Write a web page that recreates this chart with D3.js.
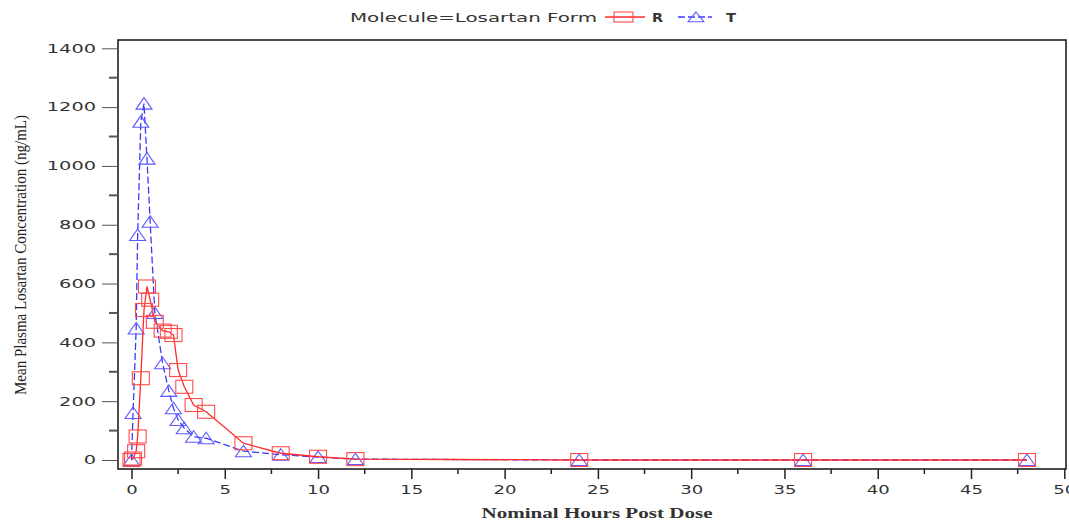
<!DOCTYPE html>
<html>
<head>
<meta charset="utf-8">
<script src="https://cdn.jsdelivr.net/npm/d3@7"></script>
<style>
  body { margin: 0; background: #fff; }
  svg { display: block; }
</style>
</head>
<body>
<script>
// Nominal sampling times (hours)
var hours = [0, 0.083, 0.25, 0.33, 0.5, 0.67, 0.83, 1, 1.25, 1.67, 2, 2.25, 2.5, 2.83, 3.33, 4, 6, 8, 10, 12, 24, 36, 48];

// Mean plasma losartan concentration (ng/mL) per formulation
var formR = [0, 5, 30, 80, 278, 510, 590, 545, 470, 440, 436, 425, 306, 249, 187, 164, 57, 23, 11, 3, 0, 0, 0];
var formT = [0, 160, 447, 765, 1150, 1212, 1025, 810, 500, 329, 235, 176, 136, 108, 79, 74, 30, 18, 10, 3, 0, 0, 0];

var yTicks = [0, 200, 400, 600, 800, 1000, 1200, 1400];
var xTicks = [0, 5, 10, 15, 20, 25, 30, 35, 40, 45, 50];

var W = 1069, H = 520;
var frame = { left: 118, right: 1066, top: 40, bottom: 469 };

var svg = d3.select("body").append("svg")
    .attr("width", W)
    .attr("height", H);

var x = d3.scaleLinear().domain([0, 50]).range([131.5, 1064.3]);
var y = d3.scaleLinear().domain([0, 1400]).range([460, 48.3]);

var redC = "#ff2a2a", blueC = "#3a3aff";
var tickFont = "DejaVu Sans, Verdana, sans-serif";

// frame
svg.append("rect")
    .attr("x", frame.left).attr("y", frame.top)
    .attr("width", frame.right - frame.left)
    .attr("height", frame.bottom - frame.top)
    .attr("fill", "none").attr("stroke", "#111").attr("stroke-width", 1.5);

// Y axis: major ticks with labels, minor ticks between
var yAxis = svg.append("g")
    .attr("transform", "translate(" + frame.left + ",0)")
    .call(d3.axisLeft(y).tickValues(yTicks).tickFormat(d3.format("d"))
        .tickSize(16).tickPadding(6).tickSizeOuter(0));
yAxis.select(".domain").remove();
yAxis.selectAll("line").attr("stroke", "#555");
yAxis.selectAll("text")
    .style("font-family", tickFont).style("font-size", "12px").attr("fill", "#333")
    .attr("textLength", function(d) { return String(d).length * 12.3; })
    .attr("lengthAdjust", "spacingAndGlyphs");

svg.append("g").selectAll("line")
    .data(d3.range(100, 1400, 200))
    .enter().append("line")
    .attr("x1", frame.left - 9).attr("x2", frame.left)
    .attr("y1", function(d) { return y(d); }).attr("y2", function(d) { return y(d); })
    .attr("stroke", "#555").attr("stroke-width", 2);

// X axis
var xAxis = svg.append("g")
    .attr("transform", "translate(0," + frame.bottom + ")")
    .call(d3.axisBottom(x).tickValues(xTicks).tickFormat(d3.format("d"))
        .tickSize(10).tickPadding(6).tickSizeOuter(0));
xAxis.select(".domain").remove();
xAxis.selectAll("line").attr("stroke", "#222").attr("stroke-width", 1.5);
xAxis.selectAll("text")
    .style("font-family", tickFont).style("font-size", "12px").attr("fill", "#333")
    .attr("textLength", function(d) { return String(d).length * 11.5; })
    .attr("lengthAdjust", "spacingAndGlyphs");

svg.append("g").selectAll("line")
    .data(d3.range(2.5, 50, 5))
    .enter().append("line")
    .attr("x1", function(d) { return x(d); }).attr("x2", function(d) { return x(d); })
    .attr("y1", frame.bottom).attr("y2", frame.bottom + 5)
    .attr("stroke", "#222").attr("stroke-width", 1.5);

// axis titles
svg.append("text")
    .attr("transform", "translate(26,255) rotate(-90)")
    .attr("text-anchor", "middle")
    .style("font-family", "Liberation Serif, Times New Roman, serif")
    .style("font-size", "17px")
    .attr("fill", "#222")
    .attr("textLength", 280).attr("lengthAdjust", "spacingAndGlyphs")
    .text("Mean Plasma Losartan Concentration (ng/mL)");

svg.append("text")
    .attr("x", 597).attr("y", 518)
    .attr("text-anchor", "middle")
    .style("font-family", "Liberation Serif, Times New Roman, serif")
    .style("font-size", "15px").style("font-weight", "bold")
    .attr("fill", "#333")
    .attr("textLength", 231).attr("lengthAdjust", "spacingAndGlyphs")
    .text("Nominal Hours Post Dose");

// data
var dataR = hours.map(function(h, i) { return { t: h, v: formR[i] }; });
var dataT = hours.map(function(h, i) { return { t: h, v: formT[i] }; });

var line = d3.line()
    .x(function(d) { return x(d.t); })
    .y(function(d) { return y(d.v); });

var tri = "M0,-6 L8,5.5 L-8,5.5 Z";

svg.append("path").datum(dataT)
    .attr("d", line).attr("fill", "none")
    .attr("stroke", blueC).attr("stroke-width", 1.3).attr("stroke-dasharray", "7,3");

svg.append("g").selectAll("path")
    .data(dataT).enter().append("path")
    .attr("d", tri)
    .attr("transform", function(d) { return "translate(" + x(d.t) + "," + y(d.v) + ")"; })
    .attr("fill", "none").attr("stroke", "#5a5aff").attr("stroke-width", 1.1);

svg.append("path").datum(dataR)
    .attr("d", line).attr("fill", "none")
    .attr("stroke", redC).attr("stroke-width", 1.3);

svg.append("g").selectAll("rect")
    .data(dataR).enter().append("rect")
    .attr("x", function(d) { return x(d.t) - 8.5; })
    .attr("y", function(d) { return y(d.v) - 6.5; })
    .attr("width", 17).attr("height", 13)
    .attr("fill", "none").attr("stroke", "#ff4a4a").attr("stroke-width", 1.1);

// legend
var leg = svg.append("g");
leg.append("text")
    .attr("x", 350).attr("y", 22)
    .style("font-family", tickFont).style("font-size", "13px").attr("fill", "#333")
    .attr("textLength", 247).attr("lengthAdjust", "spacingAndGlyphs")
    .text("Molecule=Losartan Form");
leg.append("line").attr("x1", 605).attr("x2", 645).attr("y1", 17).attr("y2", 17)
    .attr("stroke", redC).attr("stroke-width", 1.3);
leg.append("rect").attr("x", 614).attr("y", 12).attr("width", 19).attr("height", 10)
    .attr("fill", "none").attr("stroke", "#ff4a4a").attr("stroke-width", 1.1);
leg.append("text").attr("x", 652).attr("y", 22)
    .style("font-family", tickFont).style("font-size", "13px").style("font-weight", "bold")
    .attr("fill", "#333").attr("textLength", 11).attr("lengthAdjust", "spacingAndGlyphs")
    .text("R");
leg.append("line").attr("x1", 678).attr("x2", 712).attr("y1", 17).attr("y2", 17)
    .attr("stroke", blueC).attr("stroke-width", 1.3).attr("stroke-dasharray", "7,3");
leg.append("path").attr("d", tri)
    .attr("transform", "translate(696,17) scale(1,0.85)")
    .attr("fill", "none").attr("stroke", "#5a5aff").attr("stroke-width", 1.1);
leg.append("text").attr("x", 726).attr("y", 22)
    .style("font-family", tickFont).style("font-size", "13px").style("font-weight", "bold")
    .attr("fill", "#333").attr("textLength", 10).attr("lengthAdjust", "spacingAndGlyphs")
    .text("T");
</script>
</body>
</html>
